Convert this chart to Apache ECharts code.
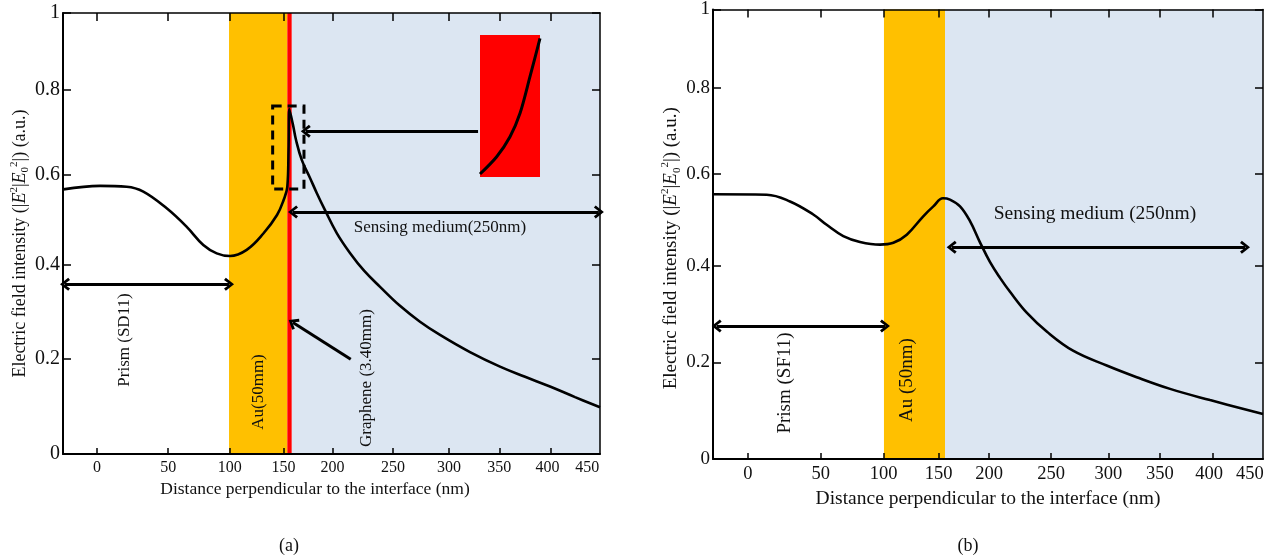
<!DOCTYPE html>
<html>
<head>
<meta charset="utf-8">
<title>Electric field intensity</title>
<script src="https://cdn.jsdelivr.net/npm/echarts@6/dist/echarts.min.js"></script>
<style>
html, body { margin: 0; padding: 0; background: #fff; }
#main { width: 1271px; height: 560px; }
</style>
</head>
<body>
<div id="main"></div>
<script>
// ---- data ----
// the x axis of the figure is not evenly spaced, so labels sit at read-off positions
var xTickText = ['0', '50', '100', '150', '200', '250', '300', '350', '400', '450'];
var xTickAt = [-9.5, 54, 109, 157, 201, 255, 305, 350, 396];
var xLabelAt = [-9.5, 54, 109, 157, 201, 255, 305, 350, 393, 428.5];
var yTickText = ['0', '0.2', '0.4', '0.6', '0.8', '1'];
var yTickAt = [0, 0.215, 0.43, 0.634, 0.825, 1];

// (a) prism SD11 / Au / graphene / sensing medium
var curveAx = [-39.7, -6.9, 16.9, 31.8, 52.7, 70.6, 85.4, 97.4, 109.3, 124.2, 139.1, 151.3, 157.2, 160.5, 161.6, 162.3,
  165.6, 168.3, 173.4, 180.8, 186.8, 194.2, 204.7, 216.5, 229.3, 243.4, 261.2, 279.1, 297, 323.8, 350.6, 373, 395.3, 417.7, 440];
var curveAy = [0.600, 0.608, 0.606, 0.595, 0.557, 0.515, 0.474, 0.455, 0.449, 0.463, 0.500, 0.542, 0.576, 0.606, 0.689, 0.782,
  0.746, 0.712, 0.667, 0.626, 0.592, 0.553, 0.501, 0.456, 0.415, 0.379, 0.336, 0.300, 0.270, 0.231, 0.198, 0.175, 0.153, 0.129, 0.106];
var auA = [108.4, 160.5];
var grapheneA = [160.5, 164.4];
var mediumA = [164.4, 440];

// zoomed view of the graphene peak (inset)
var insetX = [0, 0.278, 0.5, 0.667, 0.833, 1.0];
var insetY = [0.021, 0.143, 0.284, 0.449, 0.707, 0.977];

// (b) prism SF11 / Au / sensing medium
var curveBx = [-39.7, 6.9, 27.2, 47.5, 59.2, 73.7, 88.3, 105.7, 117.4, 129.1, 143.5, 152.3, 160.7, 166.8, 175.6, 184.3,
  193.0, 201.8, 210.5, 219.2, 234.0, 251.5, 274.2, 303.6, 329.8, 358.9, 393.8, 440];
var curveBy = [0.589, 0.588, 0.573, 0.544, 0.521, 0.496, 0.483, 0.477, 0.481, 0.499, 0.540, 0.562, 0.580, 0.577, 0.562, 0.529,
  0.482, 0.438, 0.403, 0.372, 0.325, 0.283, 0.241, 0.208, 0.182, 0.156, 0.131, 0.100];
var auB = [109.2, 162.5];
var mediumB = [162.5, 440];

// ---- helpers ----
var serif = '"Liberation Serif", "Times New Roman", serif';
var ink = '#111';
var chevron = 'path://M0,9 L7,0 L14,9 L11.6,11 L7,4.6 L2.4,11 Z';

function pairs(xs, ys) {
  var out = [];
  for (var i = 0; i < xs.length; i++) out.push([xs[i], ys[i]]);
  return out;
}
function xFmt(v) {
  var i = xLabelAt.indexOf(v);
  return i < 0 ? '' : xTickText[i];
}
function yFmt(v) {
  var i = yTickAt.indexOf(v);
  return i < 0 ? '' : yTickText[i];
}

var yTitle = 'Electric field intensity (|{i|E}{sup|2}|{i|E}{sub|0}{sup|2}|) (a.u.)';
function titleRich(size) {
  return {
    i: { fontStyle: 'italic', fontFamily: serif, fontSize: size, color: ink, lineHeight: size + 4 },
    sup: { fontFamily: serif, fontSize: Math.round(size * 0.6), color: ink, lineHeight: 12, verticalAlign: 'top' },
    sub: { fontFamily: serif, fontSize: Math.round(size * 0.6), color: ink, lineHeight: 12, verticalAlign: 'bottom' }
  };
}

function xAxes(grid, labelSize, titleSize, gap, shift) {
  return [{
    type: 'value', gridIndex: grid, position: 'bottom', min: -40, max: 440, z: 10,
    axisLine: { show: true, onZero: false, lineStyle: { color: '#000', width: 2 } },
    axisTick: { show: true, inside: true, length: 6, customValues: xTickAt, lineStyle: { color: '#000', width: 1.5 } },
    axisLabel: { customValues: xLabelAt, formatter: xFmt, fontFamily: serif, fontSize: labelSize, color: ink, margin: 6 },
    splitLine: { show: false },
    name: 'Distance perpendicular to the interface (nm)', nameLocation: 'middle', nameGap: gap,
    nameTextStyle: { fontFamily: serif, fontSize: titleSize, color: ink, padding: shift }
  }, {
    type: 'value', gridIndex: grid, position: 'top', min: -40, max: 440, z: 10,
    axisLine: { show: true, onZero: false, lineStyle: { color: '#000', width: 1.5 } },
    axisTick: { show: true, inside: true, length: 8, customValues: xTickAt, lineStyle: { color: '#000', width: 1.5 } },
    axisLabel: { show: false },
    splitLine: { show: false }
  }];
}

function yAxes(grid, labelSize, titleSize, gap, shift) {
  return [{
    type: 'value', gridIndex: grid, position: 'left', min: 0, max: 1, z: 10,
    axisLine: { show: true, onZero: false, lineStyle: { color: '#000', width: 2 } },
    axisTick: { show: true, inside: true, length: 8, customValues: yTickAt, lineStyle: { color: '#000', width: 1.5 } },
    axisLabel: { customValues: yTickAt, formatter: yFmt, fontFamily: serif, fontSize: labelSize, color: ink, margin: 3 },
    splitLine: { show: false },
    name: yTitle, nameLocation: 'middle', nameGap: gap,
    nameTextStyle: { fontFamily: serif, fontSize: titleSize, color: ink, padding: shift, rich: titleRich(titleSize) }
  }, {
    type: 'value', gridIndex: grid, position: 'right', min: 0, max: 1, z: 10,
    axisLine: { show: true, onZero: false, lineStyle: { color: '#000', width: 1.5 } },
    axisTick: { show: true, inside: true, length: 8, customValues: yTickAt, lineStyle: { color: '#000', width: 1.5 } },
    axisLabel: { show: false },
    splitLine: { show: false }
  }];
}

function band(range, color) {
  return [{ xAxis: range[0], itemStyle: { color: color } }, { xAxis: range[1] }];
}
function arrow(from, to, both) {
  return [
    { coord: from, symbol: both ? chevron : 'none', symbolSize: [13, 10] },
    { coord: to, symbol: chevron, symbolSize: [13, 10] }
  ];
}
function text(str, x, y, size, rotate) {
  return {
    type: 'text', x: x, y: y, rotation: rotate ? Math.PI / 2 : 0, z: 20, silent: true,
    style: { text: str, font: size + 'px ' + serif, fill: ink, align: 'center', verticalAlign: 'middle',
      textAlign: 'center', textVerticalAlign: 'middle' }
  };
}

var chart = echarts.init(document.getElementById('main'));
var option = {
  animation: false,
  backgroundColor: '#fff',
  grid: [
    { left: 63, top: 13, width: 537, height: 441, show: false },
    { left: 713, top: 7, width: 550, height: 452, show: false },
    { left: 480, top: 35, width: 60, height: 142, show: true, backgroundColor: '#FF0000', borderWidth: 0, z: 8 }
  ],
  xAxis: xAxes(0, 16, 17.5, 26, [0, 33, 0, 0])
    .concat(xAxes(1, 18.5, 19.5, 28, 0))
    .concat([{ type: 'value', gridIndex: 2, min: 0, max: 1, show: false }]),
  yAxis: yAxes(0, 20, 18, 29, [0, 20, 0, 0])
    .concat(yAxes(1, 19, 19, 29, [0, 28, 0, 0]))
    .concat([{ type: 'value', gridIndex: 2, min: 0, max: 1, show: false }]),
  series: [{
    name: '(a)', type: 'line', xAxisIndex: 0, yAxisIndex: 0,
    data: pairs(curveAx, curveAy), showSymbol: false, smooth: 0.4,
    lineStyle: { color: '#000', width: 2.6 }, z: 3,
    markArea: {
      silent: true, label: { show: false },
      data: [
        band(auA, '#FFC000'),
        band(mediumA, '#DCE6F2'),
        band(grapheneA, '#FF0000'),
        [{ coord: [147.4, 0.789], itemStyle: { color: 'rgba(0,0,0,0)', borderColor: '#000', borderWidth: 3, borderType: [9, 6] } },
         { coord: [175.4, 0.601] }]
      ]
    },
    markLine: {
      silent: true, animation: false, label: { show: false },
      lineStyle: { color: '#000', width: 3, type: 'solid' },
      data: [
        arrow([-38.2, 0.385], [108.4, 0.385], true),
        arrow([165.6, 0.549], [439, 0.549], true),
        arrow([331, 0.732], [177, 0.732], false),
        arrow([217.2, 0.215], [165.5, 0.298], false)
      ]
    }
  }, {
    name: '(b)', type: 'line', xAxisIndex: 2, yAxisIndex: 2,
    data: pairs(curveBx, curveBy), showSymbol: false, smooth: 0.4,
    lineStyle: { color: '#000', width: 2.6 }, z: 3,
    markArea: {
      silent: true, label: { show: false },
      data: [band(auB, '#FFC000'), band(mediumB, '#DCE6F2')]
    },
    markLine: {
      silent: true, animation: false, label: { show: false },
      lineStyle: { color: '#000', width: 3, type: 'solid' },
      data: [
        arrow([-36.8, 0.296], [110.1, 0.296], true),
        arrow([168.3, 0.471], [424.3, 0.471], true)
      ]
    }
  }, {
    name: 'inset', type: 'line', xAxisIndex: 4, yAxisIndex: 4,
    data: pairs(insetX, insetY), showSymbol: false, smooth: 0.3, z: 9,
    lineStyle: { color: '#000', width: 3 }
  }],
  graphic: [
    text('Prism (SD11)', 125, 340, 17, true),
    text('Au(50mm)', 259, 392, 17, true),
    text('Graphene (3.40mm)', 367, 378, 17, true),
    text('Sensing medium(250nm)', 440, 228, 17, false),
    text('Prism (SF11)', 785, 383, 19, true),
    text('Au (50nm)', 907, 380, 19, true),
    text('Sensing medium (250nm)', 1095, 214, 19.5, false),
    text('(a)', 289, 546, 18, false),
    text('(b)', 968, 546, 18, false)
  ]
};
chart.setOption(option);
</script>
</body>
</html>
